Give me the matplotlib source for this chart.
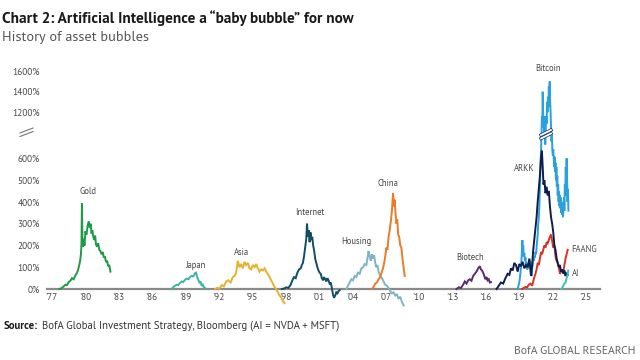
import numpy as np
import matplotlib
matplotlib.use("Agg")
import matplotlib.pyplot as plt
from matplotlib.lines import Line2D
from matplotlib import font_manager as fm
import matplotlib.patheffects as pe

def _w(f):
    return f.weight if isinstance(f.weight, int) else fm.weight_dict.get(f.weight, 400)

_faces = {}
for _f in fm.fontManager.ttflist:
    if _f.style == 'normal' and _f.stretch in ('normal', 500):
        _faces.setdefault(_f.name, set()).add(_w(_f))
_pref = ['Myriad Pro', 'Source Sans Pro', 'Source Sans 3', 'PT Sans', 'Fira Sans', 'Open Sans']
FONT = next((n for n in _pref if n in _faces and 400 in _faces[n] and 700 in _faces[n]), 'DejaVu Sans')
plt.rcParams['font.family'] = [FONT, 'DejaVu Sans']

# ---------------- data (years, % gain) ----------------
gold_yr = [1977.7, 1977.9, 1978.1, 1978.25, 1978.4, 1978.55, 1978.7, 1978.85, 1979.0, 1979.15,
           1979.3, 1979.4, 1979.5, 1979.58, 1979.65, 1979.7, 1979.74, 1979.78, 1979.83, 1979.9,
           1979.97, 1980.05, 1980.15, 1980.25, 1980.35, 1980.45, 1980.52, 1980.6, 1980.68, 1980.76,
           1980.85, 1980.93, 1981.0, 1981.1, 1981.2, 1981.3, 1981.4, 1981.5, 1981.6, 1981.7,
           1981.8, 1981.9, 1982.0, 1982.1, 1982.2, 1982.3]
gold_pct = [0, 4, 12, 20, 18, 32, 38, 50, 45, 62,
            75, 90, 110, 130, 160, 210, 395, 240, 195, 230,
            200, 265, 250, 290, 310, 280, 300, 255, 270, 240,
            225, 245, 205, 195, 210, 180, 175, 160, 170, 145,
            150, 125, 130, 105, 110, 80]

japan_yr = [1987.8, 1987.95, 1988.1, 1988.25, 1988.4, 1988.55, 1988.7, 1988.85, 1989.0, 1989.15,
            1989.3, 1989.45, 1989.6, 1989.75, 1989.9, 1990.0, 1990.1, 1990.2, 1990.3, 1990.4,
            1990.5, 1990.6, 1990.7, 1990.8]
japan_pct = [0, 8, 15, 20, 18, 28, 35, 32, 42, 48,
             45, 55, 60, 58, 72, 75, 55, 42, 30, 35,
             15, 20, 8, 5]

asia_yr = [1991.7, 1991.9, 1992.1, 1992.3, 1992.5, 1992.7, 1992.9, 1993.1, 1993.3, 1993.45,
           1993.6, 1993.75, 1993.9, 1994.05, 1994.2, 1994.35, 1994.5, 1994.65, 1994.8, 1994.95,
           1995.1, 1995.25, 1995.4, 1995.55, 1995.7, 1995.85, 1996.0, 1996.15, 1996.3, 1996.45,
           1996.6, 1996.75, 1996.9, 1997.05, 1997.2, 1997.35, 1997.5, 1997.65, 1997.8, 1997.95]
asia_pct = [0, 5, 2, 18, 12, 35, 40, 30, 55, 60,
            75, 130, 100, 115, 95, 125, 110, 120, 95, 90,
            110, 100, 115, 95, 80, 90, 85, 95, 80, 70,
            55, 40, 25, 10, 0, -15, -30, -40, -55, -65]

internet_yr = [1997.7, 1997.9, 1998.1, 1998.3, 1998.5, 1998.65, 1998.8, 1998.95, 1999.1, 1999.25,
               1999.4, 1999.5, 1999.6, 1999.7, 1999.8, 1999.9, 1999.97, 2000.05, 2000.12, 2000.2,
               2000.28, 2000.36, 2000.44, 2000.52, 2000.6, 2000.7, 2000.8, 2000.9, 2001.0, 2001.1,
               2001.2, 2001.3, 2001.4, 2001.5, 2001.6, 2001.7, 2001.8, 2001.9, 2002.0, 2002.1,
               2002.2, 2002.3, 2002.4, 2002.5, 2002.6, 2002.7, 2002.8, 2002.9]
internet_pct = [0, 2, 8, 5, 20, 40, 55, 50, 75, 90,
                95, 110, 120, 150, 190, 230, 300, 240, 270, 215,
                260, 225, 240, 200, 180, 140, 120, 100, 85, 75,
                70, 50, 40, 55, 45, 35, 50, 40, 25, 30,
                5, -25, -40, -30, -15, -20, -10, -5]

housing_yr = [2003.5, 2003.65, 2003.8, 2003.95, 2004.1, 2004.25, 2004.4, 2004.55, 2004.7, 2004.85,
              2005.0, 2005.15, 2005.3, 2005.4, 2005.5, 2005.6, 2005.7, 2005.8, 2005.9, 2006.0,
              2006.1, 2006.2, 2006.3, 2006.4, 2006.55, 2006.7, 2006.85, 2007.0, 2007.15, 2007.3,
              2007.45, 2007.6, 2007.75, 2007.9, 2008.05, 2008.2, 2008.35, 2008.5, 2008.65]
housing_pct = [0, 15, 30, 45, 40, 60, 55, 75, 70, 95,
               100, 115, 110, 140, 175, 150, 130, 160, 140, 155,
               120, 100, 110, 80, 60, 50, 35, 20, 15, 5,
               -10, -20, -15, -30, -25, -45, -35, -60, -75]

china_yr = [2005.8, 2005.95, 2006.1, 2006.25, 2006.4, 2006.55, 2006.7, 2006.8, 2006.9, 2007.0,
            2007.1, 2007.2, 2007.3, 2007.4, 2007.5, 2007.6, 2007.7, 2007.78, 2007.85, 2007.92,
            2008.0, 2008.08, 2008.16, 2008.25, 2008.35, 2008.45, 2008.55, 2008.65, 2008.75]
china_pct = [0, 10, 25, 30, 45, 55, 80, 95, 120, 150,
             190, 180, 240, 270, 310, 360, 440, 380, 410, 350,
             300, 320, 250, 240, 200, 190, 140, 100, 60]

biotech_yr = [2013.4, 2013.6, 2013.8, 2014.0, 2014.15, 2014.3, 2014.45, 2014.6, 2014.75, 2014.9,
              2015.05, 2015.2, 2015.35, 2015.5, 2015.6, 2015.7, 2015.8, 2015.9, 2016.0, 2016.1,
              2016.2, 2016.3, 2016.4, 2016.5]
biotech_pct = [0, 8, 5, 20, 35, 25, 40, 45, 38, 60,
               70, 80, 95, 105, 90, 85, 75, 60, 45, 55,
               40, 45, 30, 32]

bitcoin_yr = [2018.9, 2018.97, 2019.05, 2019.12, 2019.2, 2019.26, 2019.32, 2019.36, 2019.4, 2019.45,
              2019.5, 2019.55, 2019.6, 2019.65, 2019.7, 2019.75, 2019.8, 2019.85, 2019.9, 2019.95,
              2020.0, 2020.05, 2020.1, 2020.15, 2020.2, 2020.25, 2020.3, 2020.35, 2020.4, 2020.45,
              2020.5, 2020.55, 2020.6, 2020.65, 2020.7, 2020.75, 2020.8, 2020.85, 2020.9, 2020.95,
              2021.0, 2021.04, 2021.08, 2021.12, 2021.15, 2021.18, 2021.22, 2021.26, 2021.3, 2021.34,
              2021.38, 2021.42, 2021.46, 2021.5, 2021.54, 2021.58, 2021.62, 2021.66, 2021.7, 2021.74,
              2021.78, 2021.82, 2021.86, 2021.9, 2021.94, 2021.98, 2022.02, 2022.06, 2022.1, 2022.14,
              2022.18, 2022.22, 2022.26, 2022.3, 2022.34, 2022.38, 2022.42, 2022.46, 2022.5, 2022.54,
              2022.58, 2022.62, 2022.66, 2022.7, 2022.74, 2022.78, 2022.82, 2022.86, 2022.9, 2022.94,
              2022.98, 2023.02, 2023.06, 2023.1, 2023.14, 2023.18, 2023.22, 2023.26, 2023.3, 2023.34,
              2023.38, 2023.42, 2023.46]
bitcoin_pct = [0, 15, 30, 60, 100, 150, 225, 180, 200, 150,
               165, 130, 145, 110, 120, 90, 105, 95, 120, 105,
               130, 115, 80, 60, 95, 110, 140, 130, 150, 145,
               170, 160, 190, 220, 250, 300, 330, 380, 470, 560,
               700, 900, 1150, 1050, 1400, 1250, 1000, 1150, 900, 1000,
               780, 950, 1150, 1050, 1300, 1200, 1350, 1250, 1450, 1350,
               1500, 1300, 1200, 1000, 820, 900, 700, 640, 720, 600,
               560, 620, 540, 580, 500, 560, 470, 520, 430, 480,
               400, 450, 380, 430, 370, 420, 350, 400, 340, 390,
               330, 380, 420, 360, 480, 430, 560, 500, 600, 520,
               400, 460, 360]

arkk_yr = [2017.0, 2017.2, 2017.4, 2017.6, 2017.8, 2018.0, 2018.15, 2018.3, 2018.45, 2018.6,
           2018.75, 2018.9, 2019.05, 2019.2, 2019.35, 2019.5, 2019.65, 2019.8, 2019.95, 2020.1,
           2020.2, 2020.3, 2020.4, 2020.5, 2020.6, 2020.7, 2020.8, 2020.9, 2021.0, 2021.08,
           2021.15, 2021.22, 2021.3, 2021.4, 2021.5, 2021.6, 2021.7, 2021.8, 2021.9, 2022.0,
           2022.1, 2022.2, 2022.3, 2022.4, 2022.5, 2022.6, 2022.7, 2022.8, 2022.9, 2023.0,
           2023.1, 2023.2, 2023.3, 2023.4]
arkk_pct = [0, 15, 30, 25, 50, 70, 65, 95, 85, 120,
            110, 80, 115, 105, 125, 95, 110, 100, 140, 60,
            110, 180, 230, 280, 330, 400, 460, 520, 620, 700,
            560, 480, 500, 440, 470, 430, 450, 380, 330, 300,
            260, 200, 180, 140, 120, 100, 110, 80, 90, 70,
            85, 60, 75, 65]

faang_yr = [2019.3, 2019.45, 2019.6, 2019.75, 2019.9, 2020.05, 2020.2, 2020.3, 2020.4, 2020.5,
            2020.6, 2020.7, 2020.8, 2020.9, 2021.0, 2021.1, 2021.2, 2021.3, 2021.4, 2021.5,
            2021.6, 2021.7, 2021.8, 2021.9, 2022.0, 2022.1, 2022.2, 2022.3, 2022.4, 2022.5,
            2022.6, 2022.7, 2022.8, 2022.9, 2023.0, 2023.1, 2023.2, 2023.3, 2023.4]
faang_pct = [0, 5, 10, 8, 20, 25, 15, 35, 55, 70,
             90, 120, 110, 140, 170, 160, 180, 200, 190, 215,
             210, 225, 240, 250, 220, 190, 200, 150, 130, 120,
             100, 70, 80, 90, 75, 110, 140, 160, 180]

ai_yr = [2022.8, 2022.9, 2023.0, 2023.1, 2023.2, 2023.3, 2023.4, 2023.45]
ai_pct = [0, 5, 15, 25, 30, 50, 70, 85]

year_ticks = [1977, 1980, 1983, 1986, 1989, 1992, 1995, 1998, 2001, 2004,
              2007, 2010, 2013, 2016, 2019, 2022, 2025]
year_labels = ["'77", "'80", "'83", "'86", "'89", "'92", "'95", "'98", "'01", "'04",
               "'07", "'10", "'13", "'16", "'19", "'22", "'25"]
pct_ticks = [0, 100, 200, 300, 400, 500, 600, 1200, 1400, 1600]

# ---------------- broken-axis scale ----------------
_src = [-1000, 0, 600, 1200, 2000]
_dst = [-1000, 0, 600, 812, 1188]

def fwd(v):
    return np.interp(np.asarray(v, dtype=float), _src, _dst)

def inv(u):
    return np.interp(np.asarray(u, dtype=float), _dst, _src)

W, H = 640, 360
fig = plt.figure(figsize=(6.4, 3.6), dpi=100)
fig.patch.set_facecolor('white')
renderer = fig.canvas.get_renderer()

def width_of(text, **kw):
    t = fig.text(0, 0, text, **kw)
    w = t.get_window_extent(renderer=renderer).width
    t.remove()
    return w

def fit_size(text, target_px, base=8, **kw):
    return base * target_px / width_of(text, fontsize=base, **kw)

tick_fs = fit_size('1600%', 28)
lab_fs = fit_size('Internet', 30)

left_px, right_px, top_px, bot_px = 47, 600, 61, 313
ax = fig.add_axes([left_px / W, 1 - bot_px / H, (right_px - left_px) / W, (bot_px - top_px) / H])
ax.set_yscale('function', functions=(fwd, inv))
ax.set_xlim(1976.6, 2026.3)
ax.set_ylim(-110, 1700)

series = [
    (gold_yr, gold_pct, '#1f9a48'),
    (japan_yr, japan_pct, '#3db5a5'),
    (asia_yr, asia_pct, '#e6b12e'),
    (internet_yr, internet_pct, '#0f4e66'),
    (housing_yr, housing_pct, '#80b4c2'),
    (china_yr, china_pct, '#ec7a26'),
    (biotech_yr, biotech_pct, '#5c2a6e'),
    (faang_yr, faang_pct, '#d8312b'),
    (bitcoin_yr, bitcoin_pct, '#2aa1da'),
    (arkk_yr, arkk_pct, '#0d1e4c'),
    (ai_yr, ai_pct, '#3cc2b2'),
]
for xs, ys, c in series:
    assert len(xs) == len(ys)
    ax.plot(xs, ys, color=c, lw=1.4, solid_joinstyle='miter', clip_on=False, zorder=3)

for s in ['top', 'right', 'left']:
    ax.spines[s].set_visible(False)
ax.spines['bottom'].set_position(('data', 0))
ax.spines['bottom'].set_color('#8a8a8a')
ax.spines['bottom'].set_linewidth(1.6)
ax.spines['bottom'].set_zorder(2)

ax.set_xticks(year_ticks)
ax.set_xticklabels(year_labels)
ax.set_yticks(pct_ticks)
ax.set_yticklabels([f"{v}%" for v in pct_ticks])
ax.tick_params(axis='both', length=0, labelsize=tick_fs, labelcolor='#4a4a4a')
ax.tick_params(axis='x', pad=2.5)
ax.tick_params(axis='y', pad=5)
ax.yaxis.set_minor_locator(matplotlib.ticker.NullLocator())
ax.set_facecolor('none')

lab_kw = dict(fontsize=lab_fs, color='#444444', ha='center', va='center')
ax.text(1980.3, 450, 'Gold', **lab_kw)
ax.text(1989.9, 108, 'Japan', **lab_kw)
ax.text(1994.1, 170, 'Asia', **lab_kw)
ax.text(2000.2, 350, 'Internet', **lab_kw)
ax.text(2004.4, 220, 'Housing', **lab_kw)
ax.text(2007.2, 486, 'China', **lab_kw)
ax.text(2014.6, 147, 'Biotech', **lab_kw)
ax.text(2019.45, 555, 'ARKK', **lab_kw)
ax.text(2021.6, 1630, 'Bitcoin', **lab_kw)
ax.text(2023.75, 183, 'FAANG', fontsize=lab_fs, color='#444444', ha='left', va='center')
ax.text(2023.75, 70, 'AI', fontsize=lab_fs, color='#444444', ha='left', va='center')

# axis break marks (y-axis)
def pxline(x0, y0, x1, y1, **kw):
    fig.add_artist(Line2D([x0 / W, x1 / W], [1 - y0 / H, 1 - y1 / H], transform=fig.transFigure, **kw))

pxline(20, 136.5, 33, 131.5, color='#777777', lw=0.8)
pxline(20, 133.0, 33, 128.0, color='#777777', lw=0.8)
# break marks on bitcoin line
for dy in (0, 3.5):
    pxline(541, 138.5 - dy, 551, 133.5 - dy, color='white', lw=1.3,
           path_effects=[pe.Stroke(linewidth=2.4, foreground='#1a3a6a'), pe.Normal()], zorder=10)

# titles
title = 'Chart 2: Artificial Intelligence a \u201cbaby bubble\u201d for now'
title_fs = fit_size(title, 353, fontweight='bold')
fig.text(2 / W, 1 - 23 / H, title, fontsize=title_fs, fontweight='bold', color='#1a1a1a',
         ha='left', va='baseline')
sub = 'History of asset bubbles'
sub_fs = fit_size(sub, 148)
fig.text(2 / W, 1 - 41 / H, sub, fontsize=sub_fs, color='#555555', ha='left', va='baseline')

# source
src_rest = 'BofA Global Investment Strategy, Bloomberg (AI = NVDA + MSFT)'
w_all = width_of('Source:', fontsize=8, fontweight='bold') + width_of(src_rest, fontsize=8) + 4 * 1.0
src_fs = 8 * 339 / w_all
t1 = fig.text(4 / W, 1 - 326 / H, 'Source:', fontsize=src_fs, fontweight='bold', color='#1a1a1a',
              ha='left', va='center')
bb = t1.get_window_extent(renderer=renderer)
fig.text((bb.x1 + 4) / W, 1 - 326 / H, src_rest, fontsize=src_fs, color='#333333', ha='left', va='center')
brand = 'BofA GLOBAL RESEARCH'
brand_fs = fit_size(brand, 122)
fig.text(636 / W, 1 - 351 / H, brand, fontsize=brand_fs, color='#666666', ha='right', va='center')

fig.savefig('out.png', dpi=100, facecolor='white')
